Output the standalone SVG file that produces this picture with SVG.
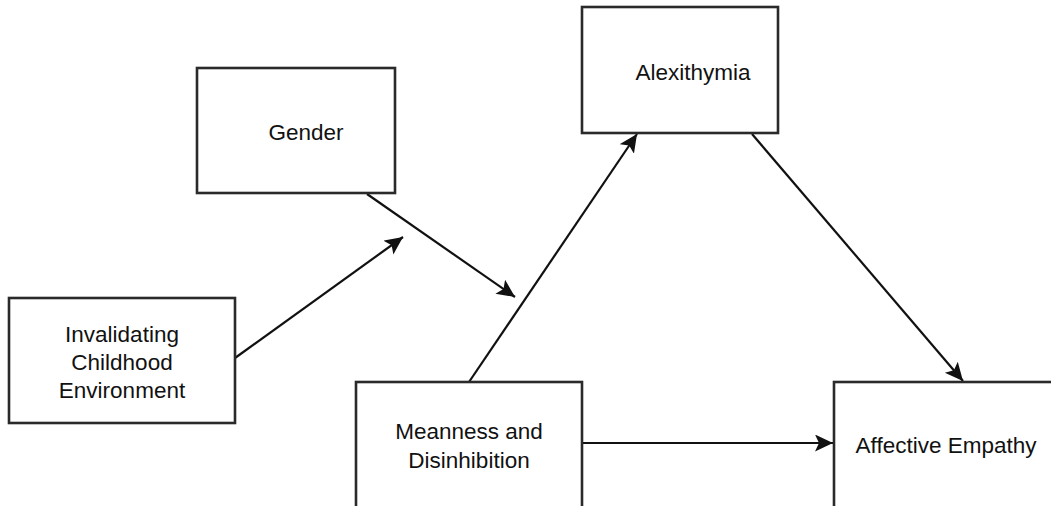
<svg xmlns="http://www.w3.org/2000/svg" width="1051" height="506" viewBox="0 0 1051 506">
<style>
.box{fill:#fff;stroke:#2a2a2a;stroke-width:2.6}
.lbl{font-family:"Liberation Sans",Arial,sans-serif;font-size:22.5px;fill:#111;text-anchor:middle}
.edge{fill:none;stroke:#111;stroke-width:2.2}
</style>
<defs>
<marker id="arr" markerUnits="userSpaceOnUse" markerWidth="20" markerHeight="20" refX="18" refY="8.5" orient="auto" viewBox="0 0 20 20">
<path d="M0,0 L18,8.5 L0,17 L4,8.5 Z" fill="#111"/>
</marker>
</defs>
<rect width="1051" height="506" fill="#fff"/>
<g id="connectors">
<line class="edge" x1="235" y1="358" x2="403" y2="237" marker-end="url(#arr)"/>
<line class="edge" x1="367" y1="194" x2="515" y2="297" marker-end="url(#arr)"/>
<line class="edge" x1="469" y1="382" x2="637" y2="134" marker-end="url(#arr)"/>
<line class="edge" x1="752" y1="134" x2="963" y2="381" marker-end="url(#arr)"/>
<line class="edge" x1="582" y1="443" x2="833" y2="443" marker-end="url(#arr)"/>
</g>
<g id="gender">
<rect class="box" x="197" y="68" width="198" height="125"/>
<text class="lbl" x="306" y="140">Gender</text>
</g>
<g id="alexithymia">
<rect class="box" x="582" y="7" width="196" height="126"/>
<text class="lbl" x="693" y="80">Alexithymia</text>
</g>
<g id="invalidating">
<rect class="box" x="9" y="298" width="226" height="125"/>
<text class="lbl" x="122" y="342">Invalidating</text>
<text class="lbl" x="122" y="370">Childhood</text>
<text class="lbl" x="122" y="398">Environment</text>
</g>
<g id="meanness">
<rect class="box" x="356" y="382" width="226" height="140"/>
<text class="lbl" x="469" y="439">Meanness and</text>
<text class="lbl" x="469" y="468">Disinhibition</text>
</g>
<g id="empathy">
<rect class="box" x="834" y="382" width="240" height="140"/>
<text class="lbl" x="946" y="453">Affective Empathy</text>
</g>
</svg>
